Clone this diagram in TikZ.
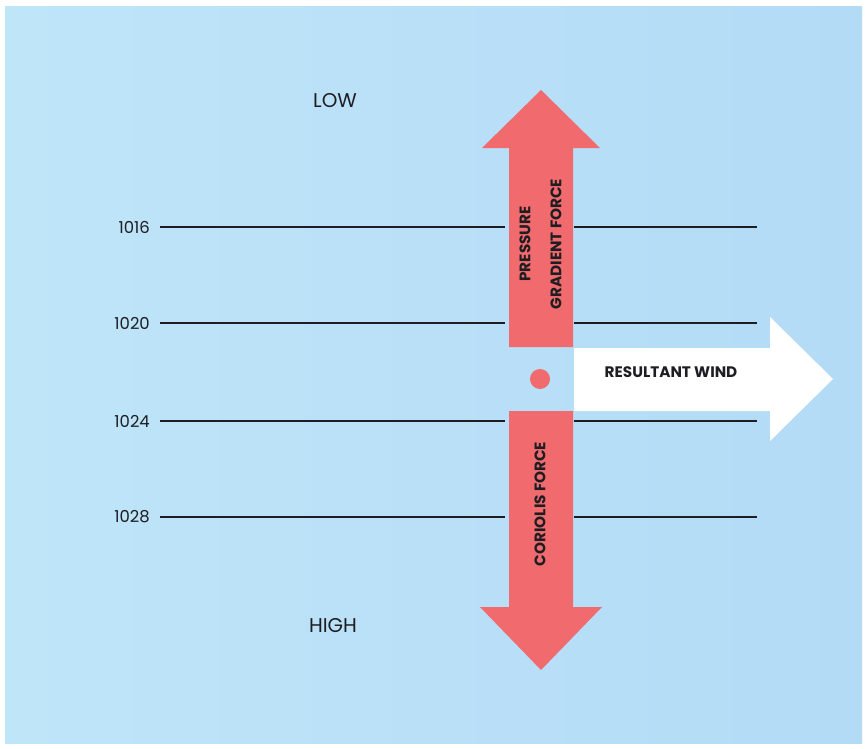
\documentclass[tikz,border=0pt]{standalone}
\usepackage{fontspec}
\setmainfont{Poppins}
\definecolor{bgl}{RGB}{190,229,248}
\definecolor{bgr}{RGB}{180,219,246}
\definecolor{arrowred}{RGB}{240,106,110}
\definecolor{ink}{RGB}{30,30,34}
\tikzset{
  isobar/.style={draw=ink, line width=1.5bp},
  presslabel/.style={anchor=east, inner sep=0pt, text=ink, font=\fontsize{16.5}{18}\selectfont},
  polelabel/.style={inner sep=0pt, text=ink, font=\fontsize{20}{22}\selectfont},
  forcelabel/.style={inner sep=0pt, text=ink, font=\bfseries\fontsize{15.3}{17}\selectfont},
  forcearrow/.style={fill=arrowred},
  windarrow/.style={fill=white},
}
\begin{document}
\begin{tikzpicture}[x=1bp,y=-1bp]
\useasboundingbox (0,0) rectangle (867,749);
\fill[white] (0,0) rectangle (867,749);
\shade[left color=bgl, right color=bgr] (5,7) rectangle (862,743);

% isobars
\foreach \n/\y in {1016/227,1020/323,1024/421,1028/517}{
  \node[presslabel] (p\n) at (150,\y) {\n};
  \coordinate (a\n) at (160,\y);
  \coordinate (b\n) at (505,\y);
  \coordinate (c\n) at (574,\y);
  \coordinate (d\n) at (757,\y);
  \draw[isobar] (a\n) -- (b\n);
  \draw[isobar] (c\n) -- (d\n);
}

% pressure gradient force arrow
\fill[forcearrow] (509,347) -- (509,148) -- (482,148) -- (541,90) -- (600,148)
  -- (573,148) -- (573,347) -- cycle;
% coriolis force arrow
\fill[forcearrow] (509,411) -- (509,607) -- (480,607) -- (541,670) -- (602,607)
  -- (573,607) -- (573,411) -- cycle;
% resultant wind arrow
\fill[windarrow] (574,348) -- (770,348) -- (770,317) -- (833,379) -- (770,441)
  -- (770,411) -- (574,411) -- cycle;
% dot
\fill[arrowred] (540,379) circle (10);

\node[forcelabel, rotate=90] (pgf1) at (525,244) {PRESSURE};
\node[forcelabel, rotate=90] (pgf2) at (556,244) {GRADIENT FORCE};
\node[forcelabel, rotate=90] (cor) at (540,504) {CORIOLIS FORCE};
\node[forcelabel] (wind) at (671,372) {RESULTANT WIND};

\node[polelabel] (low) at (335,101) {LOW};
\node[polelabel] (high) at (333,626) {HIGH};
\end{tikzpicture}
\end{document}
